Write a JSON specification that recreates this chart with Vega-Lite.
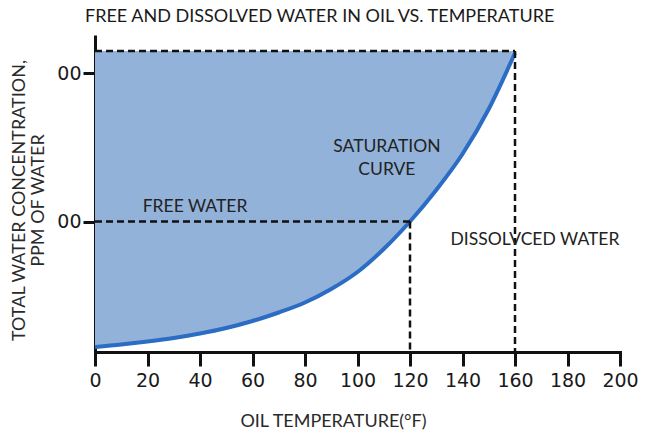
{
  "$schema": "https://vega.github.io/schema/vega-lite/v6.json",
  "width": 525,
  "height": 317,
  "autosize": {"type": "none"},
  "padding": {"left": 95, "top": 35, "right": 45, "bottom": 91},
  "background": "white",
  "config": {
    "view": {"stroke": null},
    "font": "Lato"
  },
  "title": {
    "text": "FREE AND DISSOLVED WATER IN OIL VS. TEMPERATURE",
    "anchor": "start",
    "frame": "group",
    "dx": -10,
    "offset": 9,
    "fontSize": 18,
    "fontWeight": "normal",
    "color": "#1a1a1a",
    "font": "Lato"
  },
  "datasets": {
    "curve": [
      {"temp": 0, "ppm": 5},
      {"temp": 10, "ppm": 7.5},
      {"temp": 20, "ppm": 10.5},
      {"temp": 30, "ppm": 14},
      {"temp": 40, "ppm": 18.5},
      {"temp": 50, "ppm": 24},
      {"temp": 60, "ppm": 31},
      {"temp": 70, "ppm": 39.5},
      {"temp": 80, "ppm": 49.5},
      {"temp": 90, "ppm": 63},
      {"temp": 100, "ppm": 80},
      {"temp": 110, "ppm": 103},
      {"temp": 120, "ppm": 130.5},
      {"temp": 130, "ppm": 162},
      {"temp": 140, "ppm": 198},
      {"temp": 150, "ppm": 243},
      {"temp": 160, "ppm": 299}
    ],
    "guides": [
      {"t1": 0, "t2": 160, "p1": 301, "p2": 301},
      {"t1": 160, "t2": 160, "p1": 301, "p2": 0},
      {"t1": 0, "t2": 120, "p1": 130.5, "p2": 130.5},
      {"t1": 120, "t2": 120, "p1": 130.5, "p2": 0}
    ],
    "notes": [
      {"temp": 111.2, "ppm": 205, "label": "SATURATION"},
      {"temp": 111.2, "ppm": 182, "label": "CURVE"},
      {"temp": 38.1, "ppm": 145, "label": "FREE WATER"},
      {"temp": 167.6, "ppm": 112, "label": "DISSOLVCED WATER"}
    ]
  },
  "layer": [
    {
      "data": {"name": "curve"},
      "mark": {"type": "area", "interpolate": "monotone", "color": "#93B2D9", "opacity": 1},
      "encoding": {
        "x": {
          "field": "temp", "type": "quantitative",
          "scale": {"domain": [0, 200], "nice": false, "zero": false},
          "axis": {
            "values": [0, 20, 40, 60, 80, 100, 120, 140, 160, 180, 200],
            "title": "OIL TEMPERATURE(°F)",
            "titleFont": "Lato", "titleFontSize": 18, "titleFontWeight": "normal", "titleColor": "#2a2a2a",
            "titleX": 238, "titleY": 69, "titleAlign": "center", "titleBaseline": "middle",
            "labelFont": "DejaVu Sans", "labelFontSize": 19, "labelColor": "#1a1a1a", "labelPadding": 5,
            "labelFlush": false, "labelOverlap": false,
            "grid": false, "domainColor": "#111", "domainWidth": 3, "domainCap": "square",
            "tickColor": "#111", "tickWidth": 3, "tickSize": 14
          }
        },
        "y": {
          "field": "ppm", "type": "quantitative",
          "scale": {"domain": [0, 317], "nice": false},
          "axis": {
            "values": [130.5, 279],
            "labelExpr": "'00'",
            "title": ["TOTAL WATER CONCENTRATION,", "PPM OF WATER"],
            "titleFont": "Lato", "titleFontSize": 18, "titleFontWeight": "normal", "titleColor": "#2a2a2a",
            "titleAngle": 270, "titleX": -76, "titleY": 165, "titleAlign": "center", "titleBaseline": "middle",
            "titleLineHeight": 19,
            "labelFont": "DejaVu Sans", "labelFontSize": 19, "labelColor": "#1a1a1a", "labelPadding": 2,
            "grid": false, "domainColor": "#111", "domainWidth": 3,
            "tickColor": "#111", "tickWidth": 3, "tickSize": 12
          }
        },
        "y2": {"datum": 301}
      }
    },
    {
      "data": {"name": "curve"},
      "mark": {"type": "line", "interpolate": "monotone", "color": "#2B6CC4", "strokeWidth": 4},
      "encoding": {
        "x": {"field": "temp", "type": "quantitative"},
        "y": {"field": "ppm", "type": "quantitative"}
      }
    },
    {
      "data": {"name": "guides"},
      "mark": {"type": "rule", "color": "#111", "strokeWidth": 2.5, "strokeDash": [7, 4]},
      "encoding": {
        "x": {"field": "t1", "type": "quantitative"},
        "x2": {"field": "t2"},
        "y": {"field": "p1", "type": "quantitative"},
        "y2": {"field": "p2"}
      }
    },
    {
      "data": {"name": "notes"},
      "mark": {"type": "text", "font": "Lato", "fontSize": 17.5, "color": "#222", "align": "center", "baseline": "middle"},
      "encoding": {
        "x": {"field": "temp", "type": "quantitative"},
        "y": {"field": "ppm", "type": "quantitative"},
        "text": {"field": "label"}
      }
    }
  ]
}
